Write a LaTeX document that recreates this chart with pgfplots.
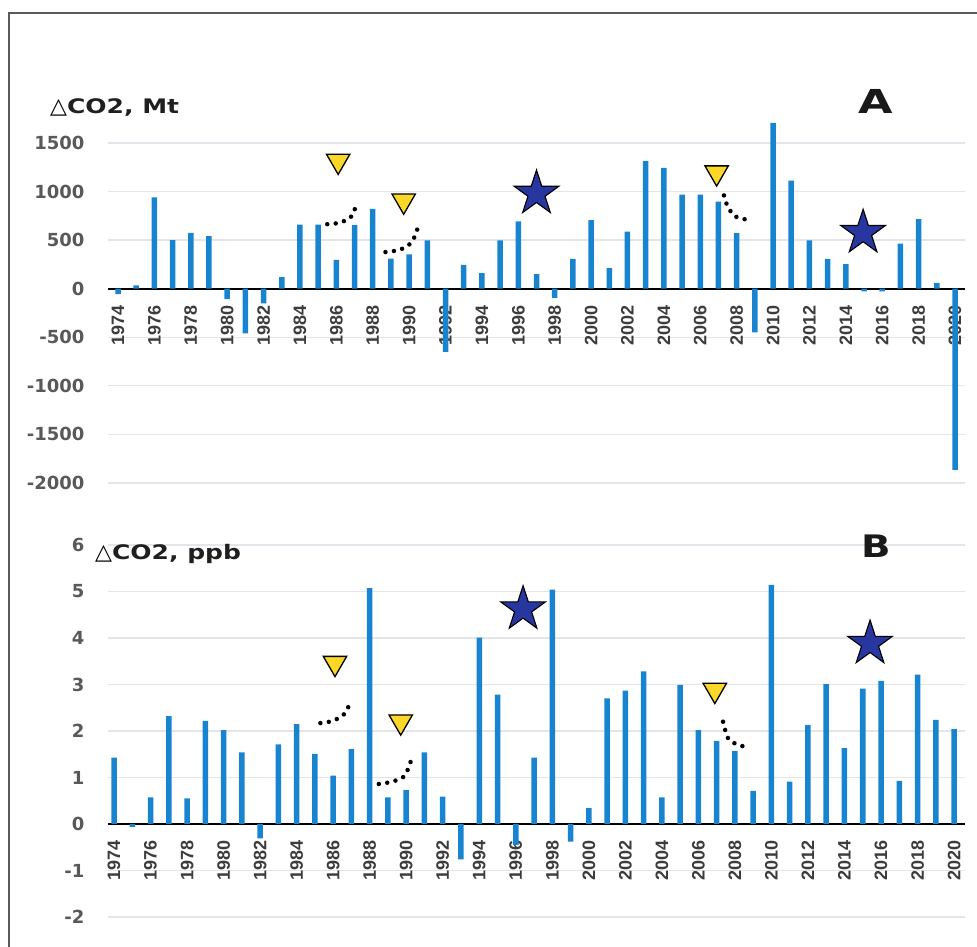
\documentclass[border=0pt]{standalone}
\usepackage{fontspec}
\setmainfont{Liberation Sans}
\newfontfamily\djv{DejaVu Sans}
\newfontfamily\ttlf{DejaVu Sans}[FakeStretch=1.25]
\newfontfamily\bigf{DejaVu Sans}[FakeStretch=1.35]
\usepackage{pgfplots}
\pgfplotsset{compat=1.18}
\definecolor{barblue}{RGB}{24,132,208}
\definecolor{tickgray}{RGB}{89,89,89}
\definecolor{xgray}{RGB}{60,60,60}
\definecolor{gridc}{RGB}{228,228,234}
\definecolor{tri}{RGB}{250,215,40}
\definecolor{starb}{RGB}{40,55,160}
\definecolor{framec}{RGB}{90,90,90}

\pgfdeclareplotmark{fstar}{%
 \pgfpathmoveto{\pgfqpointpolar{90}{\pgfplotmarksize}}%
 \pgfpathlineto{\pgfqpointpolar{126}{0.382\pgfplotmarksize}}%
 \pgfpathlineto{\pgfqpointpolar{162}{\pgfplotmarksize}}%
 \pgfpathlineto{\pgfqpointpolar{198}{0.382\pgfplotmarksize}}%
 \pgfpathlineto{\pgfqpointpolar{234}{\pgfplotmarksize}}%
 \pgfpathlineto{\pgfqpointpolar{270}{0.382\pgfplotmarksize}}%
 \pgfpathlineto{\pgfqpointpolar{306}{\pgfplotmarksize}}%
 \pgfpathlineto{\pgfqpointpolar{342}{0.382\pgfplotmarksize}}%
 \pgfpathlineto{\pgfqpointpolar{18}{\pgfplotmarksize}}%
 \pgfpathlineto{\pgfqpointpolar{54}{0.382\pgfplotmarksize}}%
 \pgfpathclose
 \pgfusepathqfillstroke
}

\pgfplotsset{myax/.style={
  scale only axis, width=857pt,
  axis x line*=middle, axis y line*=left,
  y axis line style={draw=none},
  x axis line style={black, line width=2pt},
  xtick style={draw=none}, ytick style={draw=none},
  hide obscured x ticks=false, hide obscured y ticks=false,
  ymajorgrids, grid style={gridc, line width=1.3pt},
  xtick={1974,1976,...,2020},
  /pgf/number format/1000 sep={},
  /pgf/number format/assume math mode=true,
  xticklabel style={rotate=90, anchor=east, font=\bfseries\fontsize{18}{18}\selectfont, text=xgray},
  xticklabel shift=13pt,
  yticklabel style={font=\djv\bfseries\fontsize{18}{18}\selectfont, text=tickgray},
  yticklabel shift=20pt,
  clip=false,
  dots/.style={smooth, line width=4.5pt, dash pattern=on 0pt off 8.5pt, line cap=round},
  tris/.style={only marks, mark=triangle*, mark size=13.5pt, mark options={rotate=180, fill=tri, draw=black, line width=1.3pt}},
  stars/.style={only marks, mark=fstar, mark size=23.5pt, mark options={fill=starb, draw=black, line width=1.1pt}},
}}

\begin{document}
\begin{tikzpicture}
\useasboundingbox (0pt,0pt) rectangle (977pt,947pt);
\draw[framec, line width=2pt] (9pt,-5pt) -- (9pt,934pt) -- (985pt,934pt);

% Panel A
\begin{axis}[myax, at={(108pt,464pt)}, anchor=south west, height=340pt,
  xmin=1973.45, xmax=2020.55, ymin=-2000, ymax=1500,
  ytick={-2000,-1500,...,1500}]
\addplot[ybar, bar width=5.5pt, fill=barblue, draw=none] coordinates {
(1974,-55) (1975,35) (1976,940) (1977,500) (1978,575) (1979,540) (1980,-107)
(1981,-460) (1982,-150) (1983,120) (1984,660) (1985,660) (1986,296) (1987,655)
(1988,823) (1989,309) (1990,353) (1991,497) (1992,-650) (1993,245) (1994,161)
(1995,497) (1996,692) (1997,151) (1998,-94) (1999,306) (2000,706) (2001,212)
(2002,588) (2003,1314) (2004,1243) (2005,968) (2006,968) (2007,897) (2008,571)
(2009,-450) (2010,1707) (2011,1112) (2012,497) (2013,306) (2014,252) (2015,-27)
(2016,-27) (2017,464) (2018,716) (2019,60) (2020,-1865)};
\addplot[dots] coordinates {(1985.5,664) (1986.2,680) (1986.84,747) (1987.15,899)};
\addplot[dots] coordinates {(1988.7,377) (1989.49,401) (1990.14,478) (1990.45,613)};
\addplot[dots] coordinates {(2007.3,960) (2007.48,859) (2007.9,747) (2008.73,704)};
\addplot[tris] coordinates {(1986.1,1315) (1989.7,905) (2006.9,1195)};
\addplot[stars] coordinates {(1997.0,980) (2014.95,576)};
\end{axis}

% Panel B
\begin{axis}[myax, at={(108pt,30pt)}, anchor=south west, height=372pt,
  xmin=1973.67, xmax=2020.6, ymin=-2, ymax=6,
  ytick={-2,-1,...,6}]
\addplot[ybar, bar width=5.5pt, fill=barblue, draw=none] coordinates {
(1974,1.43) (1975,-0.06) (1976,0.57) (1977,2.32) (1978,0.55) (1979,2.22) (1980,2.02)
(1981,1.54) (1982,-0.31) (1983,1.71) (1984,2.15) (1985,1.51) (1986,1.04) (1987,1.61)
(1988,5.07) (1989,0.57) (1990,0.73) (1991,1.54) (1992,0.59) (1993,-0.76) (1994,4.01)
(1995,2.78) (1996,-0.45) (1997,1.43) (1998,5.04) (1999,-0.38) (2000,0.34) (2001,2.70)
(2002,2.87) (2003,3.28) (2004,0.57) (2005,2.99) (2006,2.02) (2007,1.79) (2008,1.57)
(2009,0.71) (2010,5.14) (2011,0.91) (2012,2.13) (2013,3.01) (2014,1.63) (2015,2.91)
(2016,3.08) (2017,0.93) (2018,3.21) (2019,2.24) (2020,2.04)};
\addplot[dots] coordinates {(1985.3,2.17) (1986.0,2.22) (1986.65,2.38) (1986.93,2.63)};
\addplot[dots] coordinates {(1988.5,0.86) (1989.22,0.91) (1989.9,1.03) (1990.26,1.36)};
\addplot[dots] coordinates {(2007.35,2.20) (2007.63,1.84) (2008.18,1.70) (2008.78,1.65)};
\addplot[tris] coordinates {(1986.1,3.46) (1989.7,2.20) (2006.9,2.88)};
\addplot[stars] coordinates {(1996.4,4.62) (2015.4,3.88)};
\end{axis}

% titles
\node[anchor=base west, inner sep=0pt] at (50pt,833pt) {{\djv\fontsize{22}{22}\selectfont △}{\ttlf\bfseries\fontsize{20}{20}\selectfont\color{black!88}CO2, Mt}};
\node[anchor=base west, inner sep=0pt] at (95pt,387pt) {{\djv\fontsize{22}{22}\selectfont △}{\ttlf\bfseries\fontsize{20}{20}\selectfont\color{black!88}CO2, ppb}};
\node[anchor=base west, inner sep=0pt] at (858pt,833pt) {\bigf\bfseries\fontsize{33}{33}\selectfont\color{black!90}A};
\node[anchor=base west, inner sep=0pt] at (861pt,389pt) {\ttlf\bfseries\fontsize{31}{31}\selectfont\color{black!90}B};
\end{tikzpicture}
\end{document}
